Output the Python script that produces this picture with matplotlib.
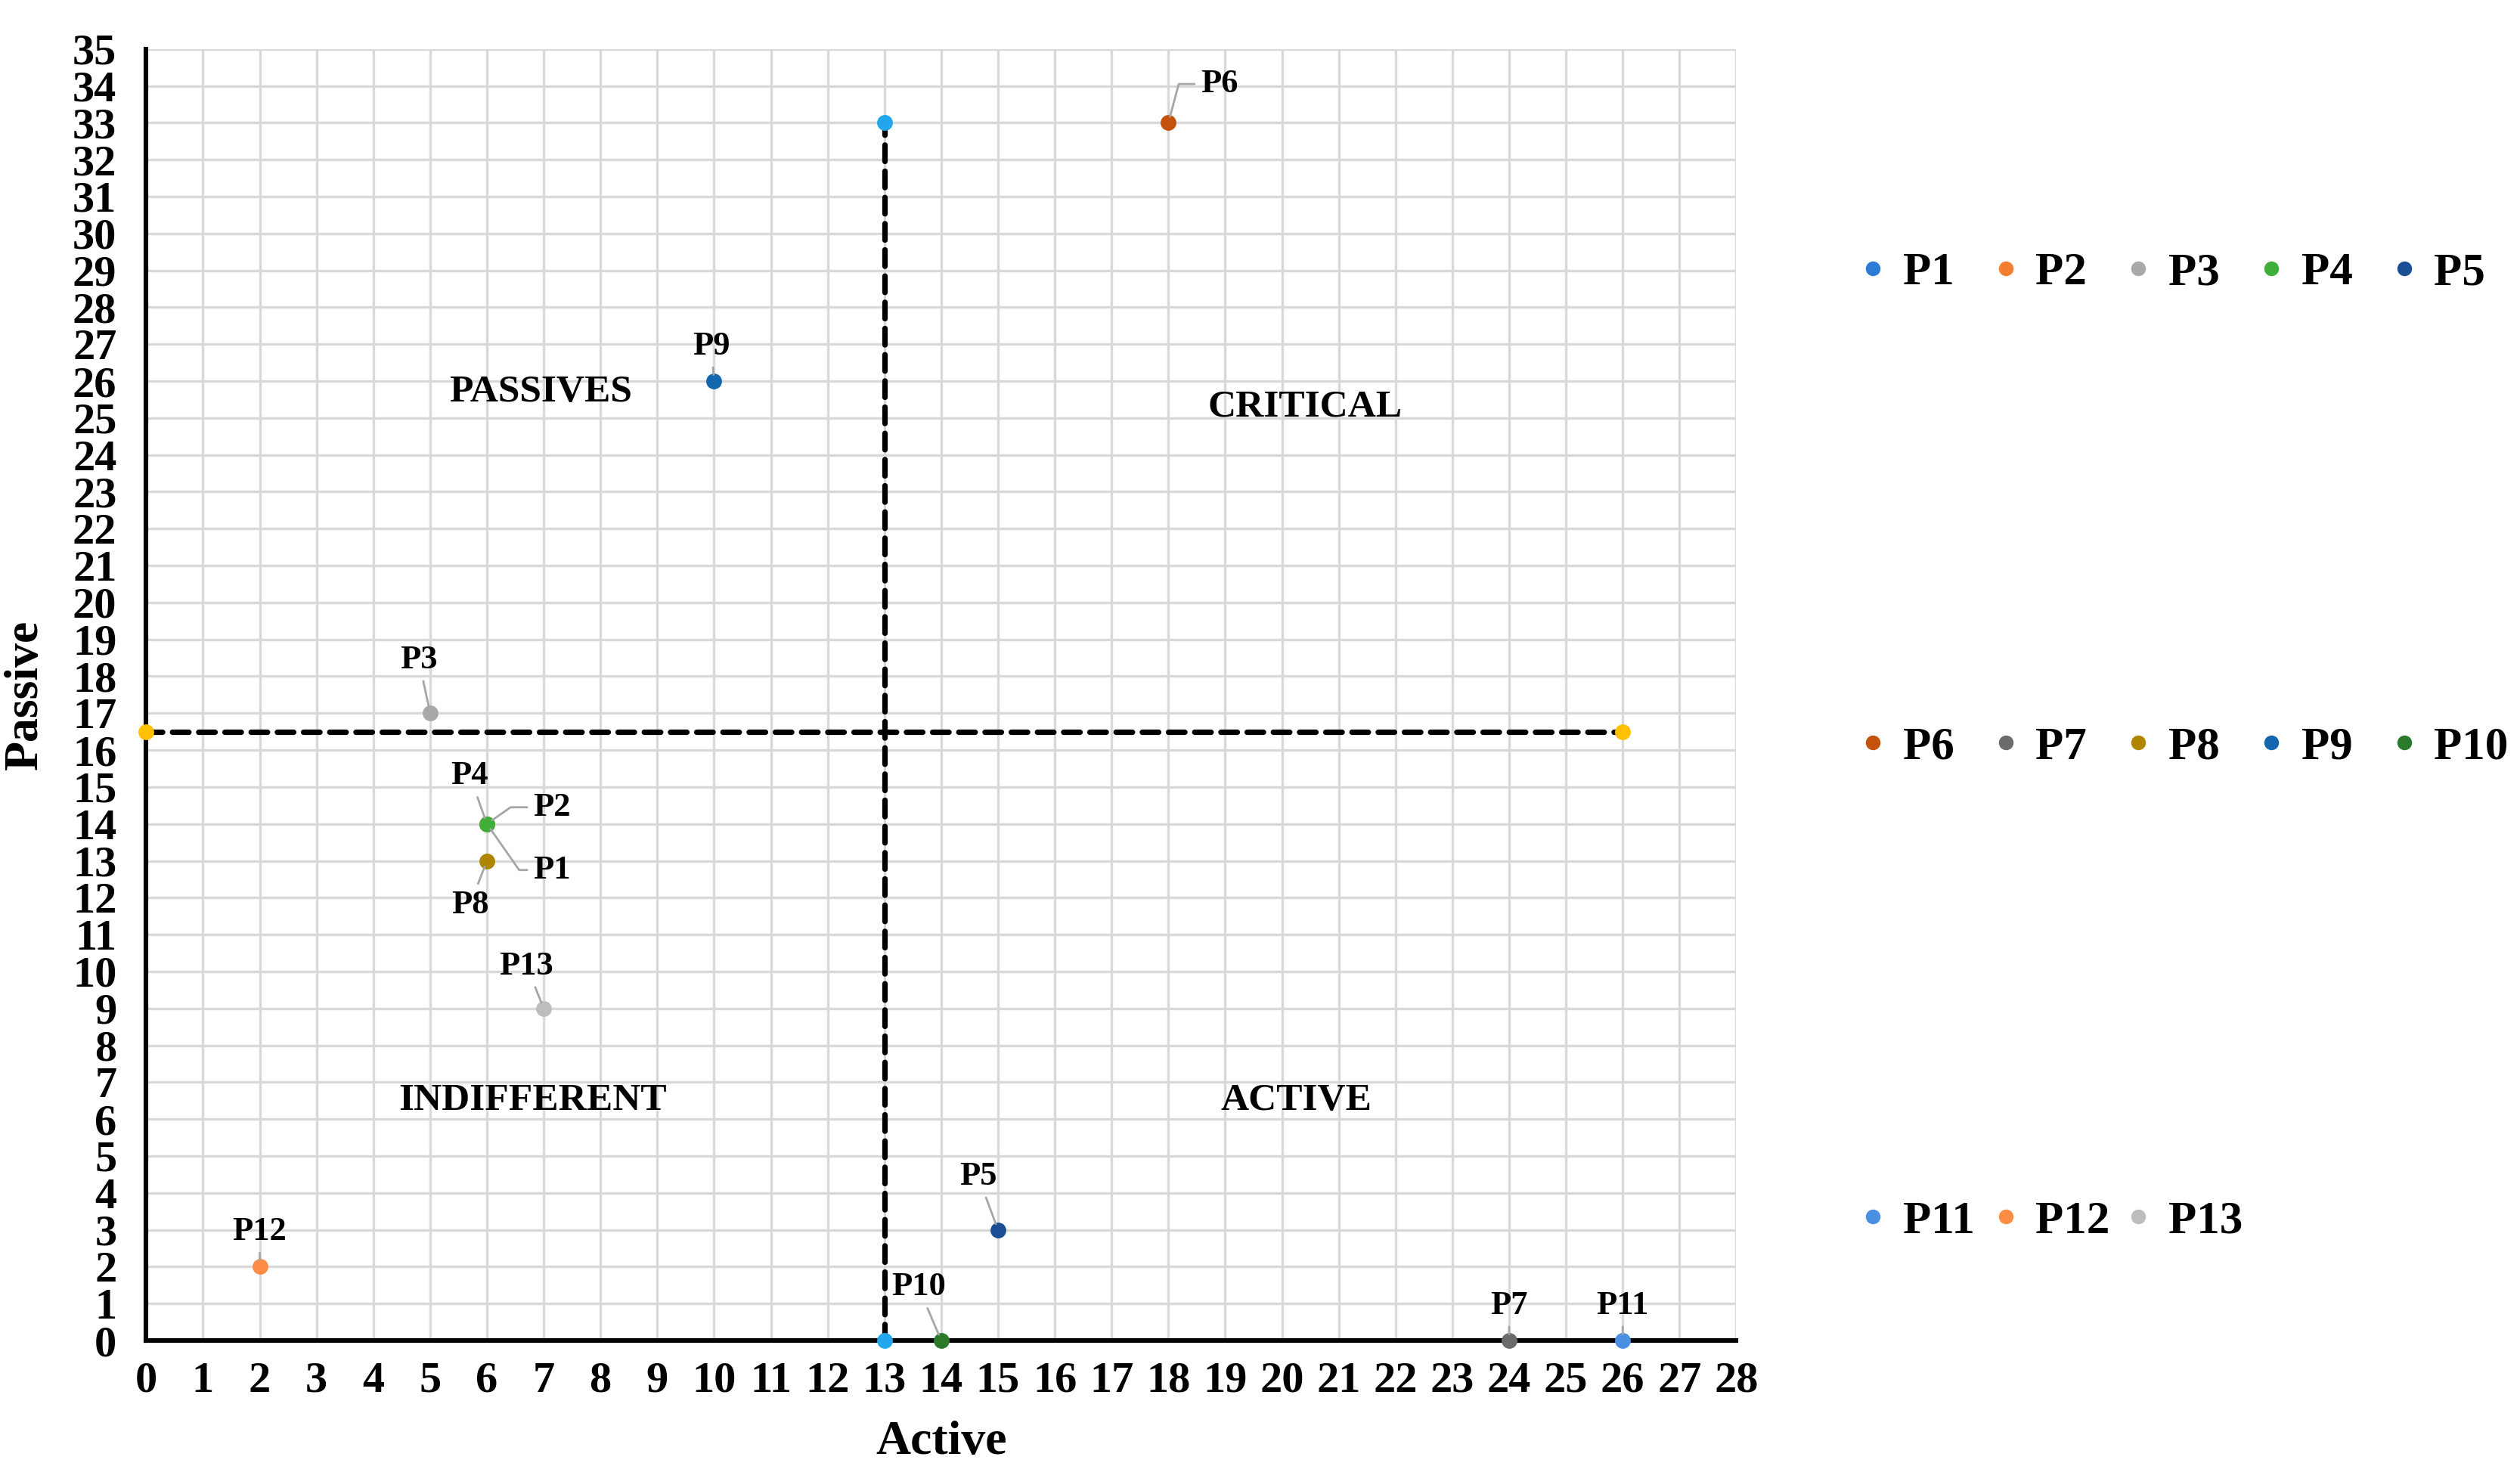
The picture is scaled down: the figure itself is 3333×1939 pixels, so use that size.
import matplotlib
matplotlib.use("Agg")
import matplotlib.pyplot as plt
from matplotlib.lines import Line2D

plt.rcParams['font.family'] = ['Liberation Serif', 'DejaVu Serif']
plt.rcParams['font.weight'] = 'bold'

# data
NAMES = ['P1', 'P2', 'P3', 'P4', 'P5', 'P6', 'P7', 'P8', 'P9', 'P10', 'P11', 'P12', 'P13']
ACTIVE = [6, 6, 5, 6, 15, 18, 24, 6, 10, 14, 26, 2, 7]
PASSIVE = [14, 14, 17, 14, 3, 33, 0, 13, 26, 0, 0, 2, 9]
COLORS = ['#2E7BD6', '#F47E30', '#A9A9A9', '#3FAF3A', '#1C4E96', '#C4510C', '#6B6B6B',
          '#B08500', '#1467AE', '#2B7A2B', '#4A8FE2', '#FF8C44', '#BDBDBD']

# quadrant dividers
V_DIV_X = [13, 13]
V_DIV_Y = [0, 33]
H_DIV_X = [0, 26]
H_DIV_Y = [16.5, 16.5]

QUADRANTS = ['PASSIVES', 'CRITICAL', 'INDIFFERENT', 'ACTIVE']
QUAD_X = [6.95, 20.4, 6.8, 20.25]
QUAD_Y = [25.7, 25.3, 6.5, 6.5]

# label placement (text position, connection style)
LABEL_POS = {
    'P1': ((7.15, 12.75), 'angle,angleA=0,angleB=-55,rad=0'),
    'P2': ((7.15, 14.45), 'angle,angleA=0,angleB=35,rad=0'),
    'P3': ((4.8, 18.45), None),
    'P4': ((5.7, 15.3), None),
    'P5': ((14.65, 4.45), None),
    'P6': ((18.9, 34.05), 'angle,angleA=0,angleB=75,rad=0'),
    'P7': ((24.0, 0.95), None),
    'P8': ((5.7, 11.8), None),
    'P9': ((9.95, 26.95), None),
    'P10': ((13.6, 1.45), None),
    'P11': ((26.0, 0.95), None),
    'P12': ((2.0, 2.95), None),
    'P13': ((6.7, 10.15), None),
}

fig = plt.figure(figsize=(16.665, 9.695), dpi=200)
ax = fig.add_axes([0.058, 0.0856, 0.631, 0.881])

ax.set_xlim(0, 28)
ax.set_ylim(0, 35)
ax.set_xticks(range(0, 29))
ax.set_yticks(range(0, 36))
ax.grid(True, color='#D9D9D9', lw=1.2, zorder=0)
ax.set_axisbelow(True)
for s in ['top', 'right']:
    ax.spines[s].set_visible(False)
for s in ['left', 'bottom']:
    ax.spines[s].set_linewidth(2.2)
    ax.spines[s].set_zorder(2)
ax.tick_params(axis='both', length=0, labelsize=21)
ax.tick_params(axis='x', pad=10)
ax.tick_params(axis='y', pad=14)

# dashed quadrant lines with end markers
ax.plot(V_DIV_X, V_DIV_Y, ls=(0, (3, 1.8)), color='black', lw=2.6, dash_capstyle='round',
        marker='o', ms=6.5, mfc='#22A7EC', mec='#22A7EC', zorder=3, clip_on=False)
ax.plot(H_DIV_X, H_DIV_Y, ls=(0, (3, 1.8)), color='black', lw=2.6, dash_capstyle='round',
        marker='o', ms=6.5, mfc='#FFC000', mec='#FFC000', zorder=3, clip_on=False)

for name, x, y, c in zip(NAMES, ACTIVE, PASSIVE, COLORS):
    ax.plot([x], [y], 'o', ms=6.5, color=c, zorder=4, clip_on=False)
    pos, conn = LABEL_POS[name]
    arrow = dict(arrowstyle='-', color='#A6A6A6', lw=1.0, shrinkA=1, shrinkB=3)
    if conn:
        arrow['connectionstyle'] = conn
    ax.annotate(name, xy=(x, y), xytext=pos, textcoords='data', ha='center', va='center',
                fontsize=16, fontweight='bold', arrowprops=arrow, zorder=5)

for q, x, y in zip(QUADRANTS, QUAD_X, QUAD_Y):
    ax.text(x, y, q, ha='center', va='center', fontsize=18.5, fontweight='bold')

ax.set_xlabel('Active', fontsize=23, fontweight='bold')
ax.set_ylabel('Passive', fontsize=23, fontweight='bold')
ax.xaxis.set_label_coords(0.5, -0.062)
ax.yaxis.set_label_coords(-0.062, 0.5)

# legend: 3 rows of up to 5 entries
row_y = [0.8136, 0.4901, 0.1667]
col_x0 = 0.7417
col_dx = 0.0527
for i, (name, c) in enumerate(zip(NAMES, COLORS)):
    r, k = divmod(i, 5)
    h = Line2D([], [], ls='none', marker='o', ms=6, color=c)
    fig.legend(handles=[h], labels=[name], loc='center left',
               bbox_to_anchor=(col_x0 + k * col_dx - 0.004, row_y[r]),
               frameon=False, fontsize=22, handlelength=0.6, handletextpad=0.35,
               borderpad=0, borderaxespad=0)

fig.savefig('out.png', dpi=200)
